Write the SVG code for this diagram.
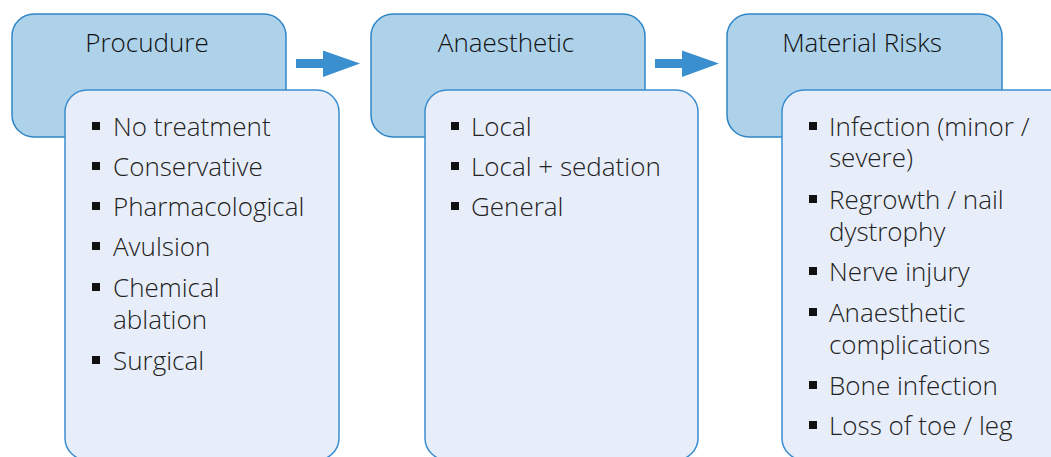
<svg xmlns="http://www.w3.org/2000/svg" width="1051" height="457" viewBox="0 0 1051 457">
<style>
.hdr{fill:#aed2ea;stroke:#2f86c6;stroke-width:1.5}
.body{fill:#e8eef9;stroke:#3a8dd0;stroke-width:1.5}
.ttl{font-family:"Open Sans",sans-serif;font-size:26px;font-weight:300;fill:#111111;text-anchor:middle}
.itm{font-family:"Open Sans",sans-serif;font-size:26px;font-weight:300;fill:#222222}
.blt{fill:#111111}
.arr{fill:#3a8fcf}
</style>
<rect width="1051" height="457" fill="#ffffff"/>
<g id="procedure">
<rect class="hdr" x="12" y="14" width="274" height="123" rx="22"/>
<text class="ttl" x="147" y="52">Procudure</text>
<rect class="body" x="65" y="90" width="274" height="370" rx="22"/>
<rect class="blt" x="92" y="122" width="8" height="8"/>
<text class="itm" x="113" y="136">No treatment</text>
<rect class="blt" x="92" y="162" width="8" height="8"/>
<text class="itm" x="113" y="176">Conservative</text>
<rect class="blt" x="92" y="202" width="8" height="8"/>
<text class="itm" x="113" y="216">Pharmacological</text>
<rect class="blt" x="92" y="242" width="8" height="8"/>
<text class="itm" x="113" y="256">Avulsion</text>
<rect class="blt" x="92" y="283" width="8" height="8"/>
<text class="itm" x="113" y="297">Chemical<tspan x="113" dy="32">ablation</tspan></text>
<rect class="blt" x="92" y="356" width="8" height="8"/>
<text class="itm" x="113" y="370">Surgical</text>
</g>
<g id="anaesthetic">
<rect class="hdr" x="371" y="14" width="274" height="123" rx="22"/>
<text class="ttl" x="506" y="52">Anaesthetic</text>
<rect class="body" x="425" y="90" width="273" height="370" rx="22"/>
<rect class="blt" x="451" y="122" width="8" height="8"/>
<text class="itm" x="471" y="136">Local</text>
<rect class="blt" x="451" y="162" width="8" height="8"/>
<text class="itm" x="471" y="176">Local + sedation</text>
<rect class="blt" x="451" y="202" width="8" height="8"/>
<text class="itm" x="471" y="216">General</text>
</g>
<g id="risks">
<rect class="hdr" x="727" y="14" width="275" height="123" rx="22"/>
<text class="ttl" x="862" y="52">Material Risks</text>
<rect class="body" x="782" y="90" width="290" height="370" rx="22"/>
<rect class="blt" x="809" y="122" width="8" height="8"/>
<text class="itm" x="829" y="136">Infection (minor /<tspan x="829" dy="31">severe)</tspan></text>
<rect class="blt" x="809" y="195" width="8" height="8"/>
<text class="itm" x="829" y="209">Regrowth / nail<tspan x="829" dy="32">dystrophy</tspan></text>
<rect class="blt" x="809" y="267" width="8" height="8"/>
<text class="itm" x="829" y="281">Nerve injury</text>
<rect class="blt" x="809" y="308" width="8" height="8"/>
<text class="itm" x="829" y="322">Anaesthetic<tspan x="829" dy="32">complications</tspan></text>
<rect class="blt" x="809" y="381" width="8" height="8"/>
<text class="itm" x="829" y="395">Bone infection</text>
<rect class="blt" x="809" y="421" width="8" height="8"/>
<text class="itm" x="829" y="435">Loss of toe / leg</text>
</g>
<g id="connectors">
<polygon class="arr" points="296,59 323,59 323,50.5 360,63.5 323,77 323,68 296,68"/>
<polygon class="arr" points="655,59 682,59 682,50.5 719,63.5 682,77 682,68 655,68"/>
</g>
</svg>
